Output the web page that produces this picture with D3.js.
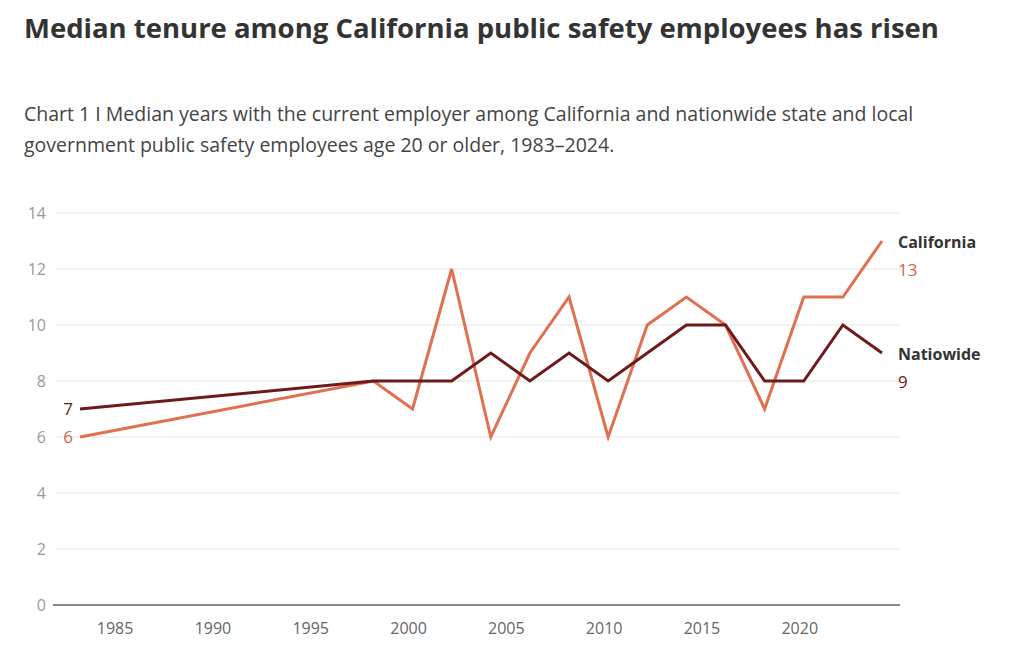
<!DOCTYPE html>
<html><head><meta charset="utf-8">
<script src="https://cdn.jsdelivr.net/npm/d3@7"></script>
<style>
body{margin:0;background:#fff;font-family:"Open Sans",sans-serif;}
h1{position:absolute;left:24px;top:6px;margin:0;font-size:27.5px;font-weight:700;color:#333;line-height:44px;width:1000px;}
p{position:absolute;left:24px;top:98px;margin:0;font-size:19.5px;color:#444;line-height:31px;width:970px;}
svg{position:absolute;left:0;top:0;}
</style></head><body>
<h1>Median tenure among California public safety employees has risen</h1>
<p>Chart 1 I Median years with the current employer among California and nationwide state and local government public safety employees age 20 or older, 1983–2024.</p>
<svg id="chart" width="1024" height="657"></svg>
<script>
// DATA
var years = [1983, 1998, 2000, 2002, 2004, 2006, 2008, 2010, 2012, 2014, 2016, 2018, 2020, 2022, 2024];
var california = [6, 8, 7, 12, 6, 9, 11, 6, 10, 11, 10, 7, 11, 11, 13];
var nationwide = [7, 8, 8, 8, 9, 8, 9, 8, 9, 10, 10, 8, 8, 10, 9];
var yTicks = [0, 2, 4, 6, 8, 10, 12, 14];
var xTicks = [1985, 1990, 1995, 2000, 2005, 2010, 2015, 2020];

var svg = d3.select('#chart');

// SCALES
var x = d3.scaleLinear().domain([1983, 2024]).range([80, 882]);
var y = d3.scaleLinear().domain([0, 14]).range([605, 213]);

// GRIDLINES
svg.selectAll('.grid').data(yTicks.filter(d => d > 0)).enter().append('line')
   .attr('x1', 55).attr('x2', 900)
   .attr('y1', d => y(d)).attr('y2', d => y(d))
   .attr('stroke', '#e6e6e6').attr('stroke-width', 1);

// Y LABELS
svg.selectAll('.yl').data(yTicks).enter().append('text')
   .attr('x', 46).attr('y', d => y(d) + 6)
   .attr('text-anchor', 'end').attr('font-size', 16).attr('fill', '#999')
   .text(d => d);

// X AXIS
svg.append('line').attr('x1', 53).attr('x2', 900).attr('y1', y(0)).attr('y2', y(0))
   .attr('stroke', '#888').attr('stroke-width', 2);
svg.selectAll('.xl').data(xTicks).enter().append('text')
   .attr('x', d => x(d) - 4).attr('y', 634)
   .attr('text-anchor', 'middle').attr('font-size', 16).attr('fill', '#666')
   .text(d => d);

// LINES
var line = (vals) => d3.line().x((d, i) => x(years[i])).y(d => y(d))(vals);
svg.append('path').attr('d', line(california)).attr('fill', 'none')
   .attr('stroke', '#e0704f').attr('stroke-width', 3);
svg.append('path').attr('d', line(nationwide)).attr('fill', 'none')
   .attr('stroke', '#6e1a1c').attr('stroke-width', 3);

// START LABELS
svg.append('text').attr('x', 73).attr('y', y(7) + 6).attr('text-anchor', 'end')
   .attr('font-size', 17).attr('fill', '#6e1a1c').text(nationwide[0]);
svg.append('text').attr('x', 73).attr('y', y(6) + 6).attr('text-anchor', 'end')
   .attr('font-size', 17).attr('fill', '#d0674a').text(california[0]);

// END LABELS
svg.append('text').attr('x', 898).attr('y', 248).attr('font-size', 16).attr('font-weight', 700)
   .attr('fill', '#333').text('California');
svg.append('text').attr('x', 898).attr('y', 276).attr('font-size', 17).attr('fill', '#d0674a')
   .text(california[california.length - 1]);
svg.append('text').attr('x', 898).attr('y', 360).attr('font-size', 16).attr('font-weight', 700)
   .attr('fill', '#333').text('Natiowide');
svg.append('text').attr('x', 898).attr('y', 388).attr('font-size', 17).attr('fill', '#6e1a1c')
   .text(nationwide[nationwide.length - 1]);
</script>
</body></html>
